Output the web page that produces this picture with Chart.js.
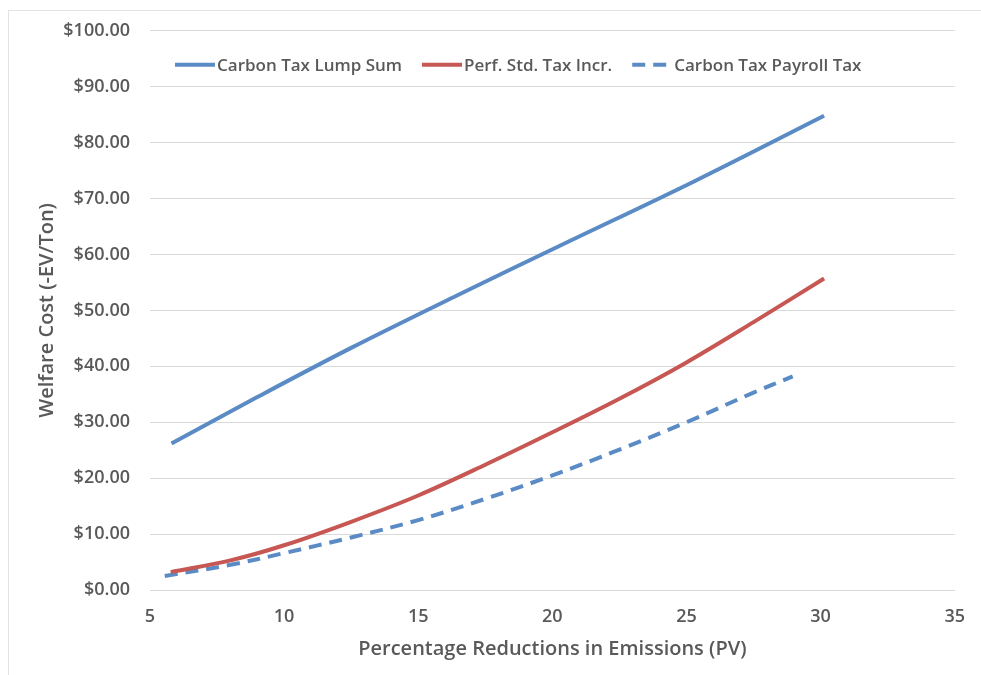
<!DOCTYPE html>
<html>
<head>
<meta charset="utf-8">
<script src="https://cdn.jsdelivr.net/npm/chart.js@4.4.0/dist/chart.umd.min.js"></script>
<style>
  html, body { margin: 0; padding: 0; background: #fff; }
  #wrap { position: relative; width: 981px; height: 675px; }
  #frame { position: absolute; left: 8px; top: 10px; width: 980px; height: 670px; border: 1px solid #e3e3e3; box-sizing: border-box; }
  canvas { position: absolute; left: 0; top: 0; }
</style>
</head>
<body>
<div id="wrap">
  <div id="frame"></div>
  <canvas id="myChart" width="981" height="675"></canvas>
</div>
<script>
// chart values
const seriesNames = ['Carbon Tax Lump Sum', 'Perf. Std. Tax Incr.', 'Carbon Tax Payroll Tax'];

const lumpX = [5.8, 9, 12.5, 16.5, 20.3, 25.3, 30.13];
const lumpY = [26.2, 34.5, 43.3, 52.8, 61.6, 73.1, 84.8];

const perfX = [5.77, 8, 10, 12.5, 15, 17.5, 20, 22.5, 25, 27.5, 30.13];
const perfY = [3.2, 5.3, 8.0, 12.2, 16.9, 22.4, 28.2, 34.2, 40.7, 47.9, 55.7];

const payrollX = [5.55, 8, 10, 12.5, 15, 17.5, 20, 22.5, 25, 27.5, 28.96];
const payrollY = [2.5, 4.5, 6.6, 9.4, 12.5, 16.3, 20.5, 25.1, 30.0, 35.3, 38.2];

const xTicks = [5, 10, 15, 20, 25, 30, 35];
const yTicks = [0, 10, 20, 30, 40, 50, 60, 70, 80, 90, 100];

const blue = '#5b8bc5';
const red = '#c65753';
const textGray = '#595959';
const gridGray = '#d9d9d9';
const fontFamily = '"Open Sans", "Liberation Sans", sans-serif';

function toPoints(xs, ys) {
    return xs.map((x, i) => ({ x: x, y: ys[i] }));
}

// legend sits inside the plot, one row, like the Excel original
const inlineLegend = {
    id: 'inlineLegend',
    afterDatasetsDraw(chart) {
        const c = chart.ctx;
        const area = chart.chartArea;
        let x = area.left + 25;
        const y = area.top + 34;
        c.save();
        c.font = '600 17px ' + fontFamily;
        c.textBaseline = 'middle';
        chart.data.datasets.forEach((ds) => {
            c.strokeStyle = ds.borderColor;
            c.lineWidth = ds.borderWidth;
            c.setLineDash(ds.borderDash || []);
            c.beginPath();
            c.moveTo(x, y);
            c.lineTo(x + 40, y);
            c.stroke();
            c.setLineDash([]);
            c.fillStyle = textGray;
            c.fillText(ds.label, x + 42, y + 1);
            x += 42 + c.measureText(ds.label).width + 20;
        });
        c.restore();
    }
};

const ctx = document.getElementById('myChart');
const lineData = {
    datasets: [{
        label: seriesNames[0],
        data: toPoints(lumpX, lumpY),
        borderColor: blue,
        backgroundColor: blue,
        borderWidth: 4,
    }, {
        label: seriesNames[1],
        data: toPoints(perfX, perfY),
        borderColor: red,
        backgroundColor: red,
        borderWidth: 4,
    }, {
        label: seriesNames[2],
        data: toPoints(payrollX, payrollY),
        borderColor: blue,
        backgroundColor: blue,
        borderWidth: 4,
        borderDash: [13, 8],
    }],
};
const lineOptions = {
    responsive: false,
    animation: false,
    layout: {
        padding: { left: 0, right: 7, top: 30, bottom: 0 }
    },
    elements: {
        point: { radius: 0 },
        line: { tension: 0.35, borderCapStyle: 'butt' }
    },
    plugins: {
        legend: { display: false },
        tooltip: { enabled: false }
    },
    scales: {
        x: {
            type: 'linear',
            min: 5,
            max: 35,
            afterBuildTicks: (scale) => { scale.ticks = xTicks.map(v => ({ value: v })); },
            afterFit: (scale) => { scale.height = 85; },
            grid: { display: false, drawTicks: false },
            border: { display: true, color: gridGray, width: 1 },
            ticks: {
                padding: 16,
                color: textGray,
                font: { family: fontFamily, size: 18, weight: '600' },
            },
            title: {
                display: true,
                text: 'Percentage Reductions in Emissions (PV)',
                color: textGray,
                font: { family: fontFamily, size: 20, weight: '600' },
                padding: { top: 0, bottom: 14 },
            }
        },
        y: {
            min: 0,
            max: 100,
            afterBuildTicks: (scale) => { scale.ticks = yTicks.map(v => ({ value: v })); },
            afterFit: (scale) => { scale.width = 150; },
            grid: { color: gridGray, lineWidth: 1, drawTicks: false },
            border: { display: false },
            ticks: {
                padding: 20,
                color: textGray,
                font: { family: fontFamily, size: 18, weight: '600' },
                callback: (v) => '$' + Number(v).toFixed(2),
            },
            title: {
                display: true,
                text: 'Welfare Cost (-EV/Ton)',
                color: textGray,
                font: { family: fontFamily, size: 20, weight: '600' },
                padding: { top: 35, bottom: 0 },
            }
        }
    }
};
new Chart(ctx, {
    type: 'line',
    data: lineData,
    options: lineOptions,
    plugins: [inlineLegend],
});
</script>
</body>
</html>
